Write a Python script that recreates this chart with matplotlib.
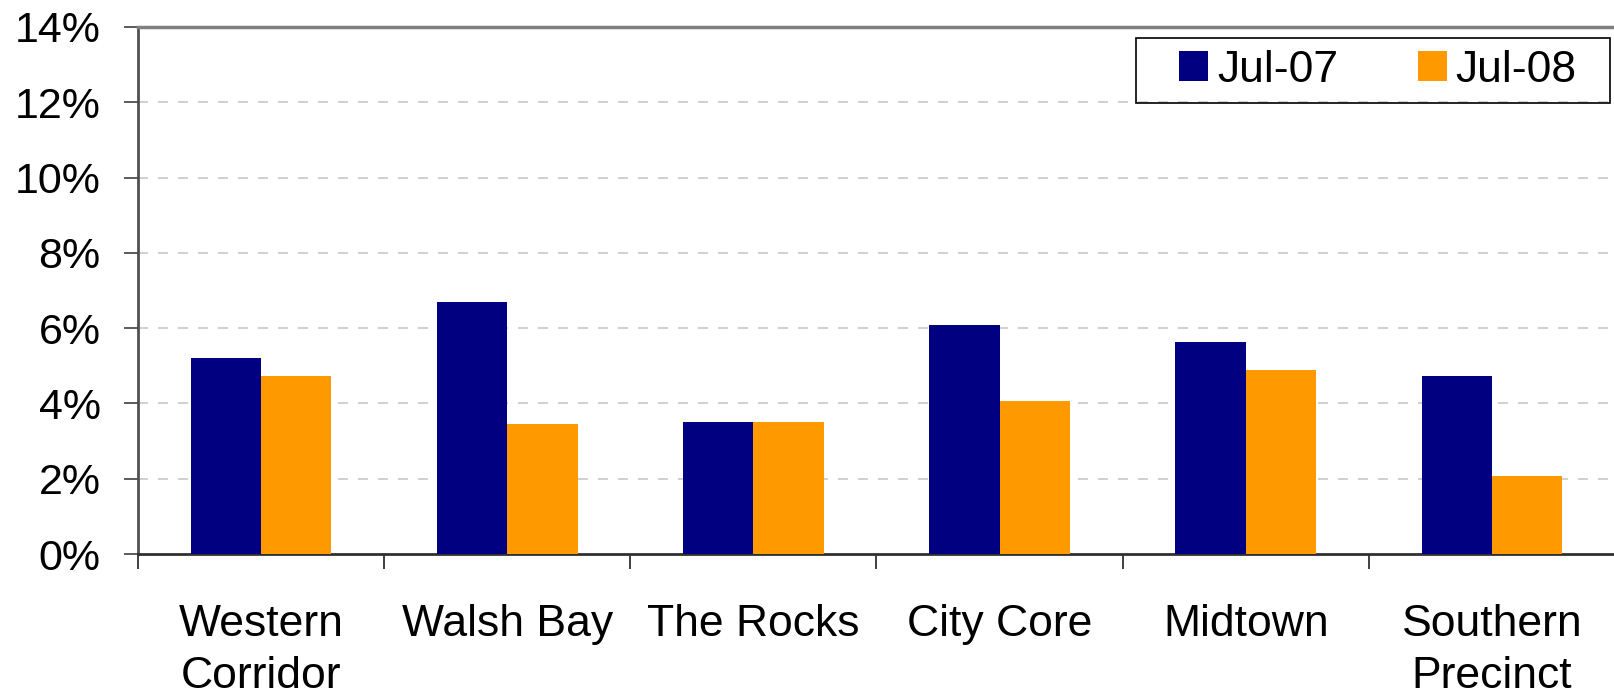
import numpy as np
import matplotlib
matplotlib.use("Agg")
import matplotlib.pyplot as plt
from matplotlib.patches import Rectangle

# Data
categories = ["Western\nCorridor", "Walsh Bay", "The Rocks", "City Core", "Midtown", "Southern\nPrecinct"]
series_names = ["Jul-07", "Jul-08"]
jul07 = [5.20, 6.69, 3.50, 6.08, 5.62, 4.74]
jul08 = [4.74, 3.45, 3.50, 4.06, 4.88, 2.06]
yticks = [0, 2, 4, 6, 8, 10, 12, 14]

plt.rcParams['font.family'] = ['Liberation Sans', 'DejaVu Sans']

W, H = 1615, 696
fig = plt.figure(figsize=(W / 100, H / 100), dpi=100)
ax = fig.add_axes([138 / W, 1 - 554 / H, (W - 138) / W, (554 - 27) / H])

x = np.arange(len(categories))
bw = 0.286
ax.bar(x - bw / 2, jul07, width=bw, color='#000080', label=series_names[0], zorder=3)
ax.bar(x + bw / 2, jul08, width=bw, color='#FF9900', label=series_names[1], zorder=3)

ax.set_ylim(0, 14)
# category width ~248 px; the last category is cut off by the image edge
ax.set_xlim(-0.5, -0.5 + (W - 138) / 248)

# y axis
ax.set_yticks(yticks)
ax.set_yticklabels([f"{v}%" for v in yticks], fontsize=31)
ax.tick_params(axis='y', length=10, width=1.2, color='#404040', pad=17)
for v in yticks[1:-1]:
    ax.axhline(v, color='#C8C8C8', lw=1.2, ls=(0, (6, 6)), zorder=1)

# x axis: ticks at boundaries, labels at centres
ax.set_xticks(np.arange(len(categories) + 1) - 0.5)
ax.set_xticklabels([])
ax.tick_params(axis='x', which='major', length=11, width=1.2, color='#202020')
ax.set_xticks(x, minor=True)
ax.set_xticklabels(categories, minor=True, fontsize=32, linespacing=1.33)
ax.tick_params(axis='x', which='minor', length=0, pad=36)

ax.spines['right'].set_visible(False)
ax.spines['left'].set_color('#505050')
ax.spines['left'].set_linewidth(2)
ax.spines['top'].set_color('#808080')
ax.spines['top'].set_linewidth(2.5)
ax.spines['bottom'].set_color('#303030')
ax.spines['bottom'].set_linewidth(2)

# legend with a plain box
fig.patches.append(Rectangle((1136 / W, 1 - 103 / H), 474 / W, 65 / H,
                             transform=fig.transFigure, fill=False,
                             ec='black', lw=1.2))
fig.legend(loc='center', bbox_to_anchor=(1378 / W, 1 - 70 / H), ncol=2,
           frameon=False, fontsize=32, handlelength=0.65, handleheight=0.65,
           handletextpad=0.2, columnspacing=1.8, borderpad=0)

fig.savefig("out.png", dpi=100)
